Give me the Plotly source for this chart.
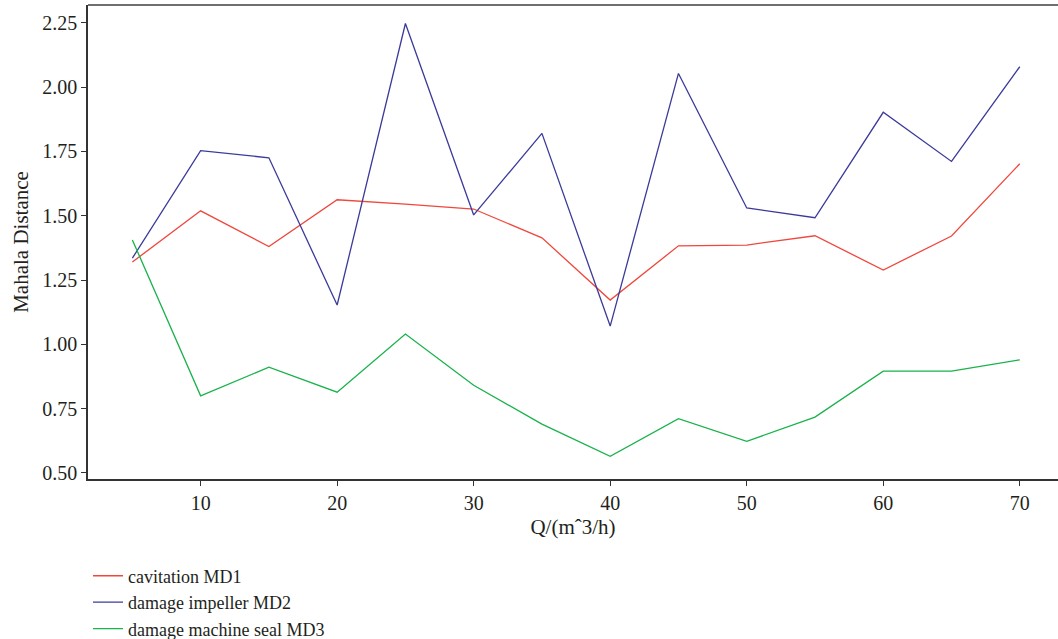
import plotly.graph_objects as go

Q = [5, 10, 15, 20, 25, 30, 35, 40, 45, 50, 55, 60, 65, 70]
md1 = [1.320, 1.519, 1.380, 1.562, 1.545, 1.526, 1.414, 1.172, 1.383, 1.386, 1.422, 1.289, 1.421, 1.702]
md2 = [1.335, 1.753, 1.725, 1.153, 2.247, 1.503, 1.820, 1.071, 2.053, 1.530, 1.492, 1.902, 1.711, 2.079]
md3 = [1.406, 0.800, 0.911, 0.814, 1.040, 0.841, 0.690, 0.565, 0.711, 0.623, 0.717, 0.896, 0.896, 0.940]
names = ["cavitation MD1", "damage impeller MD2", "damage machine seal MD3"]
colors = ["#f0473c", "#3b3a9a", "#19b24b"]
xticks = [10, 20, 30, 40, 50, 60, 70]
yticks = [0.50, 0.75, 1.00, 1.25, 1.50, 1.75, 2.00, 2.25]

FONT = "Liberation Serif"
fig = go.Figure()
for ys, nm, c in zip([md1, md2, md3], names, colors):
    fig.add_trace(go.Scatter(x=Q, y=ys, mode="lines", name=nm,
                             line=dict(color=c, width=1.3)))

fig.update_layout(
    width=1058, height=639,
    margin=dict(l=88, r=0, t=5, b=160, autoexpand=False),
    paper_bgcolor="white", plot_bgcolor="white",
    font=dict(family=FONT, size=20, color="#231f20"),
    showlegend=True,
    legend=dict(x=0.0, y=0.1275, xanchor="left", yanchor="top",
                yref="container",
                orientation="v", font=dict(size=18, family=FONT),
                tracegroupgap=0, itemwidth=30, bgcolor="rgba(0,0,0,0)"),
    xaxis=dict(range=[1.75, 72.8], tickvals=xticks,
               ticktext=[str(v) for v in xticks],
               showgrid=False, zeroline=False,
               showline=True, linecolor="#333333", linewidth=1.5,
               ticks="outside", ticklen=5, tickcolor="#333333", tickwidth=1,
               tickfont=dict(size=20),
               title=dict(text="Q/(m\u02c63/h)", standoff=7,
                          font=dict(size=21, family=FONT))),
    yaxis=dict(range=[0.4766, 2.319], tickvals=yticks,
               ticktext=[f"{v:.2f}" for v in yticks],
               showgrid=False, zeroline=False,
               showline=True, linecolor="#333333", linewidth=1.5,
               ticks="outside", ticklen=5, tickcolor="#333333", tickwidth=1,
               tickfont=dict(size=20),
               title=dict(text="Mahala Distance", standoff=8,
                          font=dict(size=21, family=FONT))),
)
fig.add_shape(type="line", xref="paper", yref="paper", x0=0, x1=1, y0=1, y1=1,
              line=dict(color="#6f6f6f", width=2))

fig.write_html("out.html")
